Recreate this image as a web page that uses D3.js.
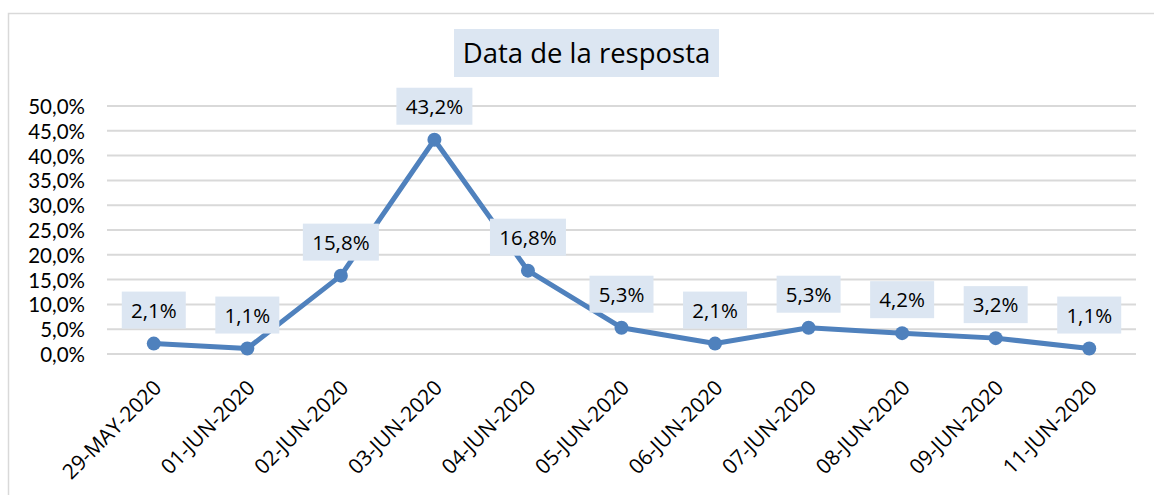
<!DOCTYPE html>
<html><head><meta charset="utf-8">
<script src="https://cdn.jsdelivr.net/npm/d3@7/dist/d3.min.js"></script>
<style>
html,body{margin:0;padding:0;background:#fff;}
svg{display:block;font-family:"Open Sans",Lato,sans-serif;}
</style></head><body>
<svg id="chart" width="1154" height="495"></svg>
<script>
const categories = ["29-MAY-2020","01-JUN-2020","02-JUN-2020","03-JUN-2020","04-JUN-2020","05-JUN-2020","06-JUN-2020","07-JUN-2020","08-JUN-2020","09-JUN-2020","11-JUN-2020"];
const values = [2.1, 1.1, 15.8, 43.2, 16.8, 5.3, 2.1, 5.3, 4.2, 3.2, 1.1];
const yTicks = [0,5,10,15,20,25,30,35,40,45,50];
const title = "Data de la resposta";

const FONT = "'Open Sans', Lato, sans-serif";
const svg = d3.select("#chart");
const W = 1154, H = 495;
const m = {left:107, right:18, top:106, bottom:141};

// outer frame
svg.append("rect").attr("x",8.5).attr("y",13.5).attr("width",W).attr("height",H)
  .attr("fill","#fff").attr("stroke","#D9D9D9").attr("stroke-width",1.5);

const x = d3.scaleBand().domain(categories).range([m.left, W-m.right]).padding(0);
const y = d3.scaleLinear().domain([0,50]).range([H-m.bottom, m.top]);
const fmt = v => d3.format(".1f")(v).replace(".", ",") + "%";

// gridlines
svg.append("g").selectAll("line").data(yTicks).join("line")
  .attr("x1",m.left).attr("x2",W-m.right)
  .attr("y1",d=>y(d)).attr("y2",d=>y(d))
  .attr("stroke","#D9D9D9").attr("stroke-width",2);

// y axis
const yAxis = d3.axisLeft(y).tickValues(yTicks).tickSize(0).tickPadding(0).tickFormat(fmt);
const gy = svg.append("g").attr("transform",`translate(85,1)`).call(yAxis);
gy.select(".domain").remove();
gy.selectAll("text").attr("font-size",20.5).attr("fill","#000").attr("font-family","Lato, sans-serif");

// x axis
const xAxis = d3.axisBottom(x).tickSize(0).tickPadding(0);
const gx = svg.append("g").attr("transform",`translate(0,${H-m.bottom})`).call(xAxis);
gx.select(".domain").remove();
gx.selectAll("text")
  .attr("font-size",21).attr("fill","#000").attr("font-family",FONT)
  .attr("text-anchor","end").attr("dy",0).attr("y",0)
  .attr("transform","translate(9,35) rotate(-45)");

// line
const line = d3.line().x((d,i)=>x(categories[i])+x.bandwidth()/2).y(d=>y(d));
svg.append("path").datum(values).attr("d",line)
  .attr("fill","none").attr("stroke","#4F81BD").attr("stroke-width",5)
  .attr("stroke-linejoin","round").attr("stroke-linecap","round");

svg.append("g").selectAll("circle").data(values).join("circle")
  .attr("cx",(d,i)=>x(categories[i])+x.bandwidth()/2).attr("cy",d=>y(d))
  .attr("r",7).attr("fill","#4F81BD");

// data labels
const lg = svg.append("g").selectAll("g").data(values).join("g")
  .attr("transform",(d,i)=>`translate(${x(categories[i])+x.bandwidth()/2},${y(d)-15})`);
lg.each(function(d){
  const g = d3.select(this);
  const label = d3.format(".1f")(d).replace(".",",")+"%";
  const w = label.length > 4 ? 76 : 64;
  g.append("rect").attr("x",-w/2).attr("y",-37).attr("width",w).attr("height",37).attr("fill","#DCE6F2");
  g.append("text").attr("x",0).attr("y",-11).attr("text-anchor","middle")
    .attr("font-size",20.5).attr("fill","#000").attr("font-family",FONT).text(label);
});

// title
const tg = svg.append("g");
tg.append("rect").attr("x",454).attr("y",29).attr("width",265).attr("height",48).attr("fill","#DCE6F2");
tg.append("text").attr("x",586.5).attr("y",63).attr("text-anchor","middle")
  .attr("font-size",27.5).attr("fill","#000").attr("font-family",FONT).text(title);
</script>
</body></html>
